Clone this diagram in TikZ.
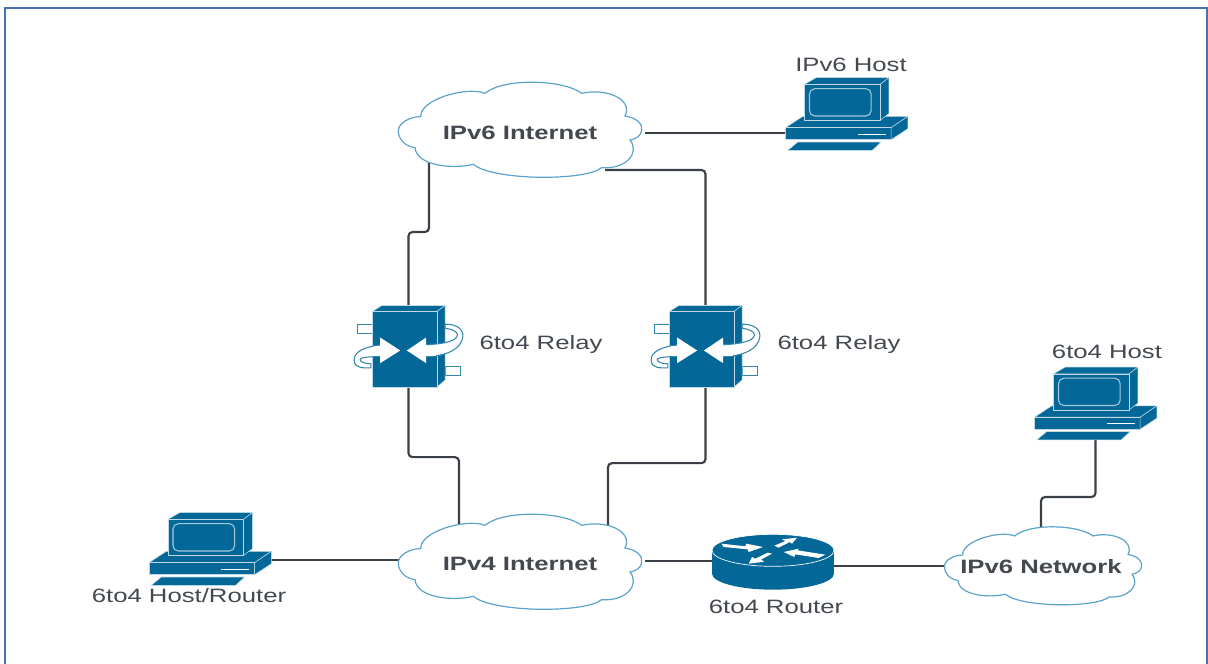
\documentclass[tikz,border=0pt]{standalone}
\usepackage{fontspec}
\setmainfont[FakeStretch=1.33]{Liberation Sans}
\usepackage{tikz}
\usetikzlibrary{backgrounds}
\definecolor{iconblue}{HTML}{036897}
\definecolor{cloudline}{HTML}{5BA3C9}
\definecolor{wirecolor}{HTML}{3A4046}
\definecolor{textcolor}{HTML}{43494F}
\definecolor{framecolor}{HTML}{4A6FB5}
\tikzset{
	hostbox/.style={minimum width=92pt,minimum height=55pt,inner sep=0pt,outer sep=0pt},
	relaybox/.style={minimum width=55pt,minimum height=61pt,inner sep=0pt,outer sep=0pt},
	routerbox/.style={minimum width=92pt,minimum height=41pt,inner sep=0pt,outer sep=0pt},
	netlabel/.style={font=\fontsize{14.5}{16}\selectfont\bfseries,text=textcolor,inner sep=0pt,outer sep=0pt},
	caption/.style={font=\fontsize{14.5}{16}\selectfont,text=textcolor,inner sep=0pt},
	wire/.style={draw=wirecolor,line width=1.6pt,rounded corners=3pt},
	face/.style={fill=iconblue,draw=white!75!iconblue,line width=0.4pt,line join=round},
	ribbon/.style={fill=white,draw=iconblue!80,line width=0.8pt},
	host/.pic={
		\begin{scope}[x=.25pt,y=-.25pt,shift={(-231,-191)}]
			\draw [face] (48,232) -- (100,198) -- (415,198) -- (365,232) -- cycle;
			\draw [face] (48,232) -- (365,232) -- (365,268) -- (48,268) -- cycle;
			\draw [face] (365,232) -- (415,198) -- (415,235) -- (365,268) -- cycle;
			\draw [white,line width=0.9pt] (265,252) -- (348,252);
			\draw [face] (105,102) -- (140,82) -- (358,82) -- (332,102) -- cycle;
			\draw [face] (332,102) -- (358,82) -- (358,190) -- (332,210) -- cycle;
			\draw [face] (105,102) -- (332,102) -- (332,210) -- (105,210) -- cycle;
			\draw [white!65!iconblue,line width=0.8pt,rounded corners=4pt] (120,115) rectangle (305,197);
			\draw [face] (55,300) -- (85,275) -- (335,275) -- (308,300) -- cycle;
		\end{scope}
	},
	relay/.pic={
		\begin{scope}[x=.25pt,y=-.25pt,shift={(-205,-170)}]
			\draw [ribbon] (52,103) rectangle (97,132);
			\draw [ribbon] (315,230) rectangle (360,258);
			\draw [face] (97,65) -- (125,47) -- (315,47) -- (290,65) -- cycle;
			\draw [face] (290,65) -- (315,47) -- (315,270) -- (290,292) -- cycle;
			\draw [face] (97,65) -- (290,65) -- (290,292) -- (97,292) -- cycle;
			\draw [ribbon] (124,165) .. controls (75,170) and (40,185) .. (42,212) .. controls (44,237) and (70,234) .. (92,234) -- (92,222) .. controls (72,222) and (58,215) .. (60,208) .. controls (62,203) and (90,200) .. (124,200) -- cycle;
			\draw [ribbon] (254,165) .. controls (320,162) and (350,152) .. (352,135) .. controls (352,125) and (335,118) .. (315,115) -- (315,103) .. controls (350,103) and (370,118) .. (368,140) .. controls (364,177) and (320,200) .. (254,200) -- cycle;
			\fill [white] (180,182) -- (120,143) -- (120,220) -- cycle;
			\fill [white] (200,182) -- (258,143) -- (258,220) -- cycle;
			\fill [white] (100,167) rectangle (122,198);
			\fill [white] (256,167) rectangle (288,198);
		\end{scope}
	},
	router/.pic={
		\begin{scope}[x=.25pt,y=-.25pt,shift={(-248,-125)}]
			\fill [iconblue] (248,160) ellipse [x radius=183,y radius=48];
			\fill [iconblue] (65,90) rectangle (431,160);
			\draw [fill=iconblue,draw=white,line width=0.5pt] (248,90) ellipse [x radius=183,y radius=48];
			\fill [white] (93,70) -- (165,78) -- (168,70) -- (218,80) -- (175,95) -- (172,87) -- (100,80) -- cycle;
			\fill [white] (252,76) -- (285,62) -- (275,57) -- (320,52) -- (305,70) -- (298,65) -- (265,82) -- cycle;
			\fill [white] (405,103) -- (322,90) -- (325,85) -- (280,95) -- (312,110) -- (315,102) -- (385,113) -- cycle;
			\fill [white] (245,100) -- (212,118) -- (222,124) -- (175,130) -- (185,110) -- (195,115) -- (232,97) -- cycle;
		\end{scope}
	},
	netcloud/.pic={
		\begin{scope}[x=.25pt,y=-.25pt,shift={(-420,-182)}]
			\draw [fill=white,draw=cloudline,line width=0.9pt] (55,185) .. controls (55,160) and (90,142) .. (122,142)
				.. controls (120,90) and (260,50) .. (315,72)
				.. controls (370,25) and (550,30) .. (605,72)
				.. controls (680,55) and (760,90) .. (735,140)
				.. controls (770,145) and (790,165) .. (785,185)
				.. controls (782,200) and (765,210) .. (750,212)
				.. controls (780,250) and (740,300) .. (665,295)
				.. controls (620,335) and (340,335) .. (280,285)
				.. controls (220,300) and (110,290) .. (105,235)
				.. controls (70,230) and (55,205) .. (55,185) -- cycle;
		\end{scope}
	}
}
\begin{document}
\begin{tikzpicture}[x=.75pt,y=.75pt]
	\useasboundingbox (0,0) rectangle (1208,-664);
	% frame
	\draw [framecolor,line width=1pt] (5,-664) -- (5,-8) -- (1207,-8) -- (1207,-664);
	% clouds
	\pic at (520,-130) {netcloud};
	\node (v6inet) at (520,-133) [netlabel] {IPv6 Internet};
	\pic at (520,-562) {netcloud};
	\node (v4inet) at (520,-564) [netlabel] {IPv4 Internet};
	\pic [xscale=.81,yscale=.82] at (1043,-566) {netcloud};
	\node (v6net) at (1041,-567) [netlabel] {IPv6 Network};
	% hosts
	\pic at (846.5,-114) {host};
	\node (v6host) at (846.5,-114) [hostbox] {};
	\node (v6hostlabel) at (851,-65) [caption] {IPv6 Host};
	\pic at (1095.5,-403.5) {host};
	\node (v4host) at (1095.5,-403.5) [hostbox] {};
	\node (v4hostlabel) at (1107,-352) [caption] {6to4 Host};
	\pic at (210,-549) {host};
	\node (edgehost) at (210,-549) [hostbox] {};
	\node (edgehostlabel) at (189,-596) [caption] {6to4 Host/Router};
	% relays
	\pic at (408.5,-346.5) {relay};
	\node (relayA) at (408.5,-346.5) [relaybox] {};
	\node (relayAlabel) at (541,-344) [caption] {6to4 Relay};
	\pic at (705.5,-346.5) {relay};
	\node (relayB) at (705.5,-346.5) [relaybox] {};
	\node (relayBlabel) at (839,-344) [caption] {6to4 Relay};
	% router
	\pic at (773,-562) {router};
	\node (edgerouter) at (773,-562) [routerbox] {};
	\node (edgerouterlabel) at (776,-607) [caption] {6to4 Router};
	% links, behind everything
	\begin{scope}[on background layer]
		\draw [wire] ([xshift=36pt]v6inet.east) -- ([yshift=-14.25pt]v6host.west);
		\draw [wire] ([xshift=-68.25pt]v6inet.center) -- ++(0,-99) -| (relayA.north);
		\draw [wire] ([shift={(63.75pt,-27.75pt)}]v6inet.center) -| (relayB.north);
		\draw [wire] (relayA.south) -- ++(0,-70) -| ([xshift=-45.75pt]v4inet.center);
		\draw [wire] (relayB.south) -- ++(0,-76) -| ([xshift=66pt]v4inet.center);
		\draw [wire] ([yshift=-8.25pt]edgehost.east) -- ([yshift=3pt]v4inet.center);
		\draw [wire] ([shift={(36pt,2.25pt)}]v4inet.east) -- ([yshift=.75pt]edgerouter.center);
		\draw [wire] ([yshift=-3pt]edgerouter.center) -- ([yshift=.75pt]v6net.center);
		\draw [wire] (v6net.center) -- ++(0,70) -| (v4host.south);
	\end{scope}
\end{tikzpicture}
\end{document}
